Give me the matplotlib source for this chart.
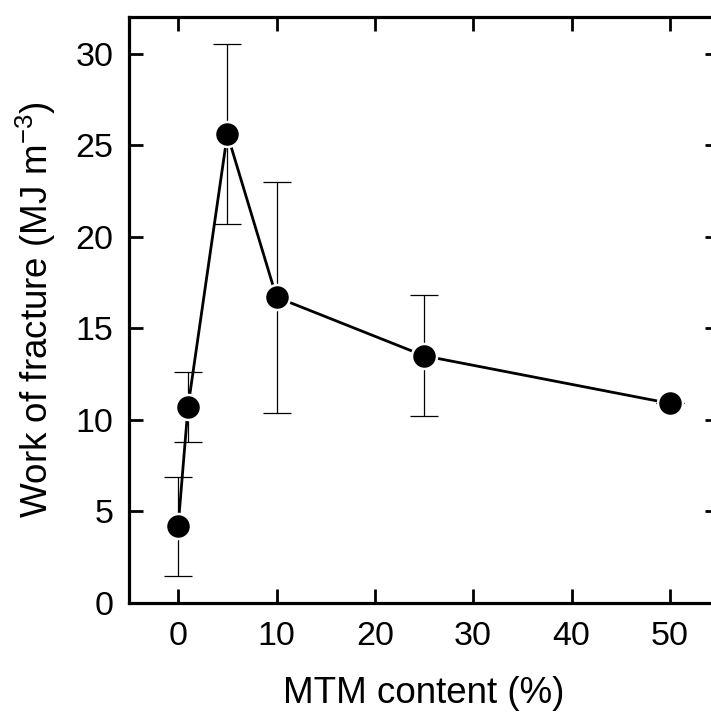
import matplotlib
matplotlib.use("Agg")
import matplotlib.pyplot as plt

plt.rcParams['font.family'] = ['Liberation Sans', 'DejaVu Sans']
plt.rcParams['mathtext.fontset'] = 'custom'
plt.rcParams['mathtext.rm'] = 'Liberation Sans'
plt.rcParams['mathtext.it'] = 'Liberation Sans:italic'

mtm_content = [0, 1, 5, 10, 25, 50]
work_of_fracture = [4.2, 10.7, 25.6, 16.7, 13.5, 10.9]
error = [2.7, 1.9, 4.9, 6.3, 3.3, 0.0]
x_ticks = [0, 10, 20, 30, 40, 50]
y_ticks = [0, 5, 10, 15, 20, 25, 30]

fig = plt.figure(figsize=(7.11, 7.13), dpi=100)
ax = fig.add_axes([129/711, 110/713, 590/711, 586/713])

ax.plot(mtm_content, work_of_fracture, color='black', lw=2.0, zorder=1)
ax.errorbar(mtm_content, work_of_fracture, yerr=error, fmt='none', ecolor='black',
            elinewidth=0.9, capsize=10, capthick=0.9, zorder=2)
ax.plot(mtm_content, work_of_fracture, 'o', color='black', ms=18,
        mec='white', mew=1.8, zorder=3, clip_on=False)

ax.set_xlim(-5, 55)
ax.set_ylim(0, 32)
ax.set_xticks(x_ticks)
ax.set_yticks(y_ticks)
for s in ax.spines.values():
    s.set_linewidth(2.3)
ax.tick_params(direction='in', length=10, width=2.0, labelsize=24.5,
               top=True, right=True, pad=13)
ax.tick_params(axis='y', pad=11)

ax.set_xlabel('MTM content (%)', fontsize=26.5, labelpad=17)
ax.set_ylabel('Work of fracture (MJ m$^{-3}$)', fontsize=26.5, labelpad=13)

fig.savefig('out.png', dpi=100)
